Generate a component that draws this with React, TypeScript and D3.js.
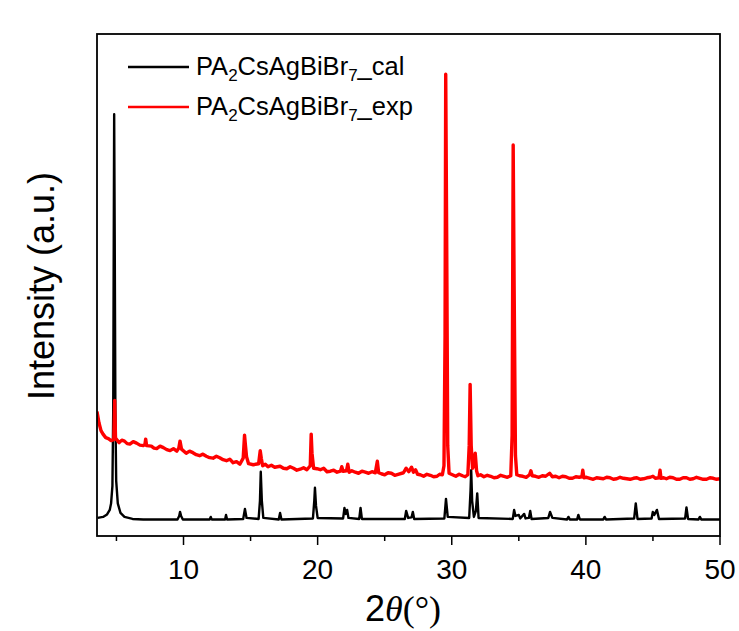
import React from 'react'
import { scaleLinear, line } from 'd3'

// 2theta (deg), intensity (a.u.)
const calPoints: [number, number][] = [
  [3.6, 3.6], [4.0, 3.8], [4.3, 4.3], [4.5, 5.2], [4.6, 6.5], [4.7, 10], [4.76, 25], [4.8, 60], [4.83, 84],
  [4.87, 60], [4.92, 25], [4.98, 11], [5.1, 6.5], [5.3, 4.6], [5.6, 3.8], [6.2, 3.4], [7.0, 3.3],
  [9.55, 3.3], [9.68, 4.0], [9.74, 4.8], [9.82, 4.0], [9.95, 3.3], [11.95, 3.3], [12.03, 3.8], [12.1, 3.3],
  [13.1, 3.3], [13.17, 4.2], [13.25, 3.3], [14.45, 3.4], [14.58, 5.4], [14.7, 3.6], [15.6, 3.4], [15.7, 7],
  [15.76, 12.8], [15.84, 7], [15.95, 3.6], [17.1, 3.3], [17.2, 4.6], [17.3, 3.3], [19.65, 3.5], [19.75, 7],
  [19.8, 9.6], [19.88, 6], [20.0, 3.6], [21.9, 3.5], [22.0, 5.6], [22.1, 4.4], [22.2, 5.2], [22.3, 3.6],
  [23.1, 3.4], [23.2, 5.6], [23.3, 3.4], [26.5, 3.4], [26.6, 5.0], [26.75, 3.6], [27.0, 3.7], [27.1, 4.8],
  [27.2, 3.4], [29.45, 3.5], [29.57, 7.4], [29.7, 3.8], [31.3, 3.6], [31.4, 9], [31.45, 13.1], [31.52, 7],
  [31.65, 3.8], [31.8, 5], [31.9, 8.5], [32.0, 3.6], [34.55, 3.4], [34.65, 5.2], [34.75, 4.0], [35.0, 4.2],
  [35.1, 3.5], [35.4, 4.4], [35.5, 3.5], [35.75, 3.6], [35.85, 5.0], [35.95, 3.4], [37.2, 3.6], [37.33, 4.8],
  [37.5, 3.6], [38.6, 3.3], [38.7, 3.8], [38.8, 3.3], [39.35, 3.3], [39.44, 4.2], [39.55, 3.3], [41.3, 3.3],
  [41.4, 3.8], [41.5, 3.3], [43.6, 3.5], [43.72, 6.5], [43.85, 3.4], [44.9, 3.5], [44.99, 4.8], [45.1, 4.2],
  [45.3, 5.2], [45.45, 3.4], [47.4, 3.5], [47.5, 5.7], [47.62, 3.4], [48.4, 3.3], [48.5, 3.8], [48.6, 3.3],
  [50, 3.3],
]

const expPoints: [number, number][] = [
  [3.55, 24.8], [3.7, 22.5], [3.85, 21.0], [4.0, 20.3], [4.2, 19.6], [4.4, 19.4], [4.6, 19.0], [4.8, 19.2],
  [4.87, 27], [4.93, 19.5], [5.2, 18.6], [5.4, 19.1], [5.6, 18.9], [5.8, 18.4], [6.0, 18.3], [6.25, 18.8],
  [6.5, 18.5], [6.75, 18.1], [7.0, 18.0], [7.12, 18.2], [7.18, 19.3], [7.25, 18.0], [7.6, 17.9], [7.8, 17.5],
  [8.0, 17.4], [8.25, 17.9], [8.5, 17.6], [8.75, 17.2], [9.0, 17.0], [9.25, 17.4], [9.5, 16.9], [9.65, 17.5],
  [9.74, 18.9], [9.85, 17.3], [10.2, 16.5], [10.45, 16.9], [10.7, 16.6], [10.95, 16.2], [11.2, 16.0],
  [11.45, 16.3], [11.7, 15.9], [11.95, 15.6], [12.2, 15.5], [12.45, 15.9], [12.7, 15.6], [12.95, 15.2],
  [13.2, 15.0], [13.45, 15.3], [13.7, 14.6], [13.95, 14.8], [14.2, 14.3], [14.45, 15.5], [14.55, 20.1],
  [14.62, 18], [14.7, 15.8], [14.85, 14.4], [15.2, 14.2], [15.6, 14.4], [15.72, 17.0], [15.8, 15.5],
  [15.9, 14.0], [16.1, 14.3], [16.3, 13.8], [16.55, 14.1], [16.8, 13.7], [17.2, 13.9], [17.45, 13.5],
  [17.7, 13.4], [17.95, 13.8], [18.2, 13.5], [18.45, 13.1], [18.7, 13.3], [18.95, 13.6], [19.2, 13.2],
  [19.45, 14.0], [19.52, 20.3], [19.58, 16.5], [19.7, 13.5], [19.95, 13.4], [20.2, 13.2], [20.45, 13.5],
  [20.7, 12.8], [20.95, 12.9], [21.2, 13.1], [21.45, 12.7], [21.7, 12.9], [21.8, 13.8], [21.9, 12.9],
  [22.15, 13.0], [22.25, 14.3], [22.35, 12.7], [22.55, 13.0], [22.8, 12.7], [23.05, 12.5], [23.3, 12.9],
  [23.55, 12.7], [23.8, 12.5], [24.05, 12.8], [24.3, 12.6], [24.45, 14.9], [24.55, 12.6], [24.75, 12.4],
  [25.0, 12.2], [25.25, 12.6], [25.5, 12.5], [25.75, 12.1], [26.0, 12.3], [26.4, 12.6], [26.6, 13.5],
  [26.8, 12.8], [27.0, 13.7], [27.15, 12.7], [27.3, 13.2], [27.45, 12.3], [27.65, 12.2], [27.9, 11.9],
  [28.15, 12.3], [28.4, 12.1], [28.65, 11.8], [28.9, 11.9], [29.1, 12.3], [29.3, 12.2], [29.42, 14],
  [29.5, 40], [29.55, 92], [29.62, 60], [29.7, 18], [29.8, 12.5], [30.05, 12.2], [30.3, 11.9], [30.55, 12.3],
  [30.8, 12.0], [31.0, 11.8], [31.2, 12.2], [31.3, 18], [31.37, 30.2], [31.45, 18], [31.55, 13.5],
  [31.65, 14], [31.75, 16.5], [31.85, 13], [31.95, 12], [32.15, 12.2], [32.4, 11.8], [32.65, 12.1],
  [32.9, 11.9], [33.15, 11.6], [33.4, 11.7], [33.65, 12.1], [33.9, 11.9], [34.15, 11.7], [34.4, 12.0],
  [34.5, 20], [34.58, 77.9], [34.65, 50], [34.75, 16], [34.85, 12.2], [35.05, 12.0], [35.3, 11.9],
  [35.55, 11.7], [35.8, 12.2], [35.9, 13.0], [36.0, 12.0], [36.25, 11.9], [36.5, 11.7], [36.75, 12.0],
  [37.0, 11.9], [37.3, 12.5], [37.5, 11.8], [37.75, 11.9], [38.0, 11.6], [38.25, 11.9], [38.5, 11.8],
  [38.75, 11.5], [39.0, 11.5], [39.25, 11.8], [39.5, 11.7], [39.7, 11.8], [39.77, 13.1], [39.85, 11.6],
  [40.05, 11.7], [40.3, 11.5], [40.55, 11.3], [40.8, 11.6], [41.05, 11.5], [41.3, 11.4], [41.55, 11.7],
  [41.8, 11.6], [42.05, 11.3], [42.3, 11.4], [42.55, 11.7], [42.8, 11.5], [43.05, 11.4], [43.3, 11.3],
  [43.55, 11.5], [43.8, 11.6], [44.05, 11.3], [44.3, 11.4], [44.55, 11.6], [44.8, 11.7], [45.0, 11.9],
  [45.2, 11.5], [45.45, 11.6], [45.53, 13.1], [45.6, 11.5], [45.8, 11.6], [46.0, 11.4], [46.25, 11.7],
  [46.5, 11.6], [46.75, 11.3], [47.0, 11.3], [47.25, 11.6], [47.5, 11.6], [47.75, 11.3], [48.0, 11.4],
  [48.25, 11.7], [48.5, 11.5], [48.75, 11.3], [49.0, 11.3], [49.25, 11.6], [49.5, 11.5], [49.75, 11.3],
  [50.0, 11.4],
]

const majorTicks = [10, 20, 30, 40, 50]
const minorTicks = [5, 15, 25, 35, 45]

const font = "'Liberation Sans', Arial, sans-serif"
const serif = "'Liberation Serif', 'Times New Roman', serif"

const App = () => {
  const left = 97, right = 720, top = 34, bottom = 536
  const xScale = scaleLinear().domain([3.55, 50]).range([left, right])
  const yScale = scaleLinear().domain([0, 100]).range([bottom, top])
  const path = line<[number, number]>()
    .x(d => xScale(d[0]))
    .y(d => yScale(d[1]))

  return (
    <svg width={739} height={631} style={{ position: 'absolute', left: 0, top: 0, background: '#fff' }}>
      <defs>
        <clipPath id="plot">
          <rect x={left} y={top} width={right - left} height={bottom - top} />
        </clipPath>
      </defs>
      <g clipPath="url(#plot)" fill="none" strokeLinejoin="round">
        <path d={path(calPoints) || ''} stroke="#000" strokeWidth={2.4} />
        <path d={path(expPoints) || ''} stroke="#ff0000" strokeWidth={3.4} />
      </g>
      <rect x={left} y={top} width={right - left} height={bottom - top} fill="none" stroke="#000" strokeWidth={1.8} />
      {majorTicks.map(t => (
        <g key={t}>
          <line x1={xScale(t)} x2={xScale(t)} y1={bottom} y2={bottom + 9} stroke="#000" strokeWidth={1.5} />
          <text x={xScale(t)} y={579} textAnchor="middle" fontFamily={font} fontSize={28}>{t}</text>
        </g>
      ))}
      {minorTicks.map(t => (
        <line key={t} x1={xScale(t)} x2={xScale(t)} y1={bottom} y2={bottom + 5} stroke="#000" strokeWidth={1.5} />
      ))}
      <text x={403} y={621} textAnchor="middle" fontSize={36}>
        <tspan fontFamily={font}>2</tspan>
        <tspan fontFamily={serif} fontStyle="italic">θ</tspan>
        <tspan fontFamily={serif}>(°)</tspan>
      </text>
      <text transform="translate(54,286) rotate(-90)" textAnchor="middle" fontFamily={font} fontSize={36}>
        Intensity (a.u.)
      </text>
      {[{ label: 'cal', color: '#000', y: 67 }, { label: 'exp', color: '#ff0000', y: 107 }].map(d => (
        <g key={d.label}>
          <line x1={128} x2={189} y1={d.y} y2={d.y} stroke={d.color} strokeWidth={2.5} />
          <text x={196} y={d.y + 8} fontFamily={font} fontSize={25.5}>
            PA<tspan fontSize={17} dy={6}>2</tspan>
            <tspan dy={-6}>CsAgBiBr</tspan>
            <tspan fontSize={17} dy={6}>7</tspan>
            <tspan dy={-6}>_{d.label}</tspan>
          </text>
        </g>
      ))}
    </svg>
  )
}

export default App
